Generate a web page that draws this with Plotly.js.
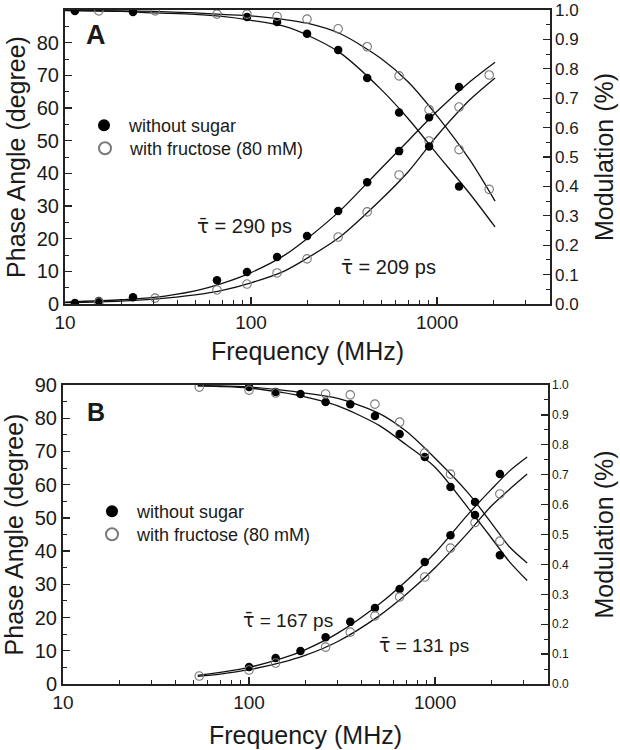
<!DOCTYPE html>
<html>
<head>
<meta charset="utf-8">
<script src="https://cdn.plot.ly/plotly-3.0.1.min.js"></script>
<style>html,body{margin:0;padding:0;background:#fff;}#chart{width:620px;height:750px;}</style>
</head>
<body>
<div id="chart"></div>
<script>
// ---------------- Panel A data ----------------
const freqA_filled  = [11.3, 15.2, 23.2, 65.6, 95.1, 138, 200, 294, 421, 625, 906, 1313];
const phaseA_filled = [0.3, 0.9, 2.1, 7.3, 9.8, 14.4, 20.8, 28.5, 37.3, 46.8, 57.2, 66.4];
const modA_filled   = [0.997, null, 0.993, null, 0.976, 0.959, 0.919, 0.864, 0.769, 0.651, 0.536, 0.400];

const freqA_open  = [15.2, 30.5, 65.6, 95.1, 138, 200, 294, 421, 625, 906, 1313, 1905];
const phaseA_open = [0.6, 1.8, 4.3, 6.1, 9.5, 13.8, 20.5, 28.2, 39.5, 49.9, 60.3, 70.1];
const modA_open   = [0.997, 0.997, 0.986, 0.986, 0.978, 0.969, 0.936, 0.875, 0.776, 0.661, 0.525, 0.390];

const fitFreqA         = [10, 20, 30, 50, 70, 100, 150, 200, 300, 500, 700, 1000, 1500, 2050];
const fitA_phaseFilled = [0.6, 1.3, 2.0, 4.0, 6.3, 9.6, 14.8, 20, 28.5, 41.5, 50, 59, 68, 74];
const fitA_phaseOpen   = [0.4, 0.9, 1.5, 2.8, 4.2, 6.5, 10, 14, 20.5, 32, 40.5, 51.5, 62.5, 69.2];
const fitA_modFilled   = [0.998, 0.995, 0.99, 0.985, 0.978, 0.965, 0.945, 0.915, 0.855, 0.73, 0.63, 0.51, 0.375, 0.262];
const fitA_modOpen     = [0.999, 0.997, 0.995, 0.99, 0.985, 0.98, 0.968, 0.955, 0.92, 0.835, 0.755, 0.64, 0.49, 0.35];

// ---------------- Panel B data ----------------
const freqB         = [54, 100, 139, 189, 258, 350, 475, 645, 880, 1210, 1640, 2230];
const phaseB_filled = [null, 5.1, 7.8, 9.9, 14.1, 18.7, 22.9, 28.6, 36.7, 44.8, 54.8, 63.2];
const phaseB_open   = [2.4, 4.2, 6.3, null, 11.1, 15.6, 20.5, 26.2, 32.2, 40.9, 48.6, 57.2];
const modB_filled   = [null, 0.993, 0.977, 0.97, 0.943, 0.936, 0.896, 0.836, 0.759, 0.659, 0.565, 0.431];
const modB_open     = [0.993, 0.983, 0.973, null, 0.97, 0.967, 0.936, 0.876, 0.773, 0.702, null, 0.478];

const fitFreqB         = [53, 70, 100, 150, 200, 300, 500, 700, 1000, 1500, 2000, 2500, 3126];
const fitB_phaseFilled = [2.6, 3.5, 5.0, 7.7, 10.3, 15.3, 24, 31, 39.5, 51, 58.5, 64, 68.3];
const fitB_phaseOpen   = [2.3, 3.0, 4.3, 6.5, 8.6, 12.8, 20.5, 27, 35, 45.5, 53.5, 58.5, 63.2];
const fitB_modFilled   = [0.997, 0.995, 0.99, 0.975, 0.96, 0.93, 0.865, 0.8, 0.725, 0.59, 0.49, 0.41, 0.346];
const fitB_modOpen     = [0.998, 0.997, 0.993, 0.983, 0.973, 0.955, 0.905, 0.845, 0.755, 0.64, 0.54, 0.46, 0.405];

// labels
const legendLabels = ['\u00a0without sugar', '\u00a0with fructose (80 mM)'];
const TAU = '<span style="font-family:DejaVu Sans">\u03c4\u0304</span>';
const tauLabelsA = [TAU + ' = 290 ps', TAU + ' = 209 ps'];
const tauLabelsB = [TAU + ' = 167 ps', TAU + ' = 131 ps'];
const xTickVals = [10, 100, 1000];
const xMinorVals = [20,30,40,50,60,70,80,90,200,300,400,500,600,700,800,900,2000,3000,4000];

// ---------------- styling ----------------
const W = 620, H = 750;
const FONT = 'Liberation Sans, Arial, sans-serif';
const TXT = '#1a1a1a';
const AX = '#222';
const px = x => x / W;
const py = y => 1 - y / H;

const filledMarker = {symbol: 'circle', size: 8.5, color: '#000'};
const openMarker = {symbol: 'circle-open', size: 8.5, color: '#7a7a7a', line: {width: 1.1, color: '#7a7a7a'}};
const fitLine = {color: '#111', width: 1.3, shape: 'spline', smoothing: 0.8};

function pts(x, y, xa, ya, marker, name, legend, show) {
  return {type: 'scatter', mode: 'markers', x: x, y: y, xaxis: xa, yaxis: ya,
    marker: marker, name: name, legend: legend, showlegend: show, hoverinfo: 'skip'};
}
function fit(x, y, xa, ya) {
  return {type: 'scatter', mode: 'lines', x: x, y: y, xaxis: xa, yaxis: ya,
    line: fitLine, showlegend: false, hoverinfo: 'skip', connectgaps: true};
}

const traces = [
  fit(fitFreqA, fitA_phaseFilled, 'x', 'y'),
  fit(fitFreqA, fitA_phaseOpen, 'x', 'y'),
  fit(fitFreqA, fitA_modFilled, 'x', 'y2'),
  fit(fitFreqA, fitA_modOpen, 'x', 'y2'),
  pts(freqA_filled, phaseA_filled, 'x', 'y', filledMarker, legendLabels[0], 'legend', true),
  pts(freqA_open, phaseA_open, 'x', 'y', openMarker, legendLabels[1], 'legend2', true),
  pts(freqA_filled, modA_filled, 'x', 'y2', filledMarker, legendLabels[0], 'legend', false),
  pts(freqA_open, modA_open, 'x', 'y2', openMarker, legendLabels[1], 'legend2', false),

  fit(fitFreqB, fitB_phaseFilled, 'x2', 'y3'),
  fit(fitFreqB, fitB_phaseOpen, 'x2', 'y3'),
  fit(fitFreqB, fitB_modFilled, 'x2', 'y4'),
  fit(fitFreqB, fitB_modOpen, 'x2', 'y4'),
  pts(freqB, phaseB_filled, 'x2', 'y3', filledMarker, legendLabels[0], 'legend3', true),
  pts(freqB, phaseB_open, 'x2', 'y3', openMarker, legendLabels[1], 'legend4', true),
  pts(freqB, modB_filled, 'x2', 'y4', filledMarker, legendLabels[0], 'legend3', false),
  pts(freqB, modB_open, 'x2', 'y4', openMarker, legendLabels[1], 'legend4', false)
];

function xAxis(domain, anchor, standoff) {
  return {
    domain: domain, anchor: anchor, type: 'log', range: [1, 3.607],
    tickmode: 'array', tickvals: xTickVals, ticktext: xTickVals.map(String),
    ticks: 'inside', ticklen: 7, tickwidth: 1.3, tickcolor: AX,
    minor: {tickmode: 'array', tickvals: xMinorVals, ticks: 'inside', ticklen: 4, tickwidth: 1, tickcolor: AX},
    showline: true, linewidth: 2, linecolor: AX, mirror: true,
    showgrid: false, zeroline: false,
    tickfont: {family: FONT, size: 19, color: TXT},
    title: {text: 'Frequency (MHz)', font: {family: FONT, size: 25, color: TXT}, standoff: standoff}
  };
}
function yLeft(domain, anchor) {
  return {
    domain: domain, anchor: anchor, range: [0, 90], tickmode: 'linear', tick0: 0, dtick: 10,
    ticks: 'inside', ticklen: 7, tickwidth: 1.3, tickcolor: AX,
    minor: {dtick: 5, ticks: 'inside', ticklen: 4, tickwidth: 1, tickcolor: AX},
    showline: true, linewidth: 2, linecolor: AX, showgrid: false, zeroline: false,
    tickfont: {family: FONT, size: 20, color: TXT},
    title: {text: 'Phase Angle (degree)', font: {family: FONT, size: 25, color: TXT}, standoff: 4}
  };
}
function yRight(overlay, anchor, fsize, standoff) {
  return {
    overlaying: overlay, anchor: anchor, side: 'right', range: [0, 1], tickmode: 'linear', tick0: 0, dtick: 0.1,
    tickformat: '.1f',
    ticks: 'inside', ticklen: 7, tickwidth: 1.3, tickcolor: AX,
    minor: {dtick: 0.05, ticks: 'inside', ticklen: 4, tickwidth: 1, tickcolor: AX},
    showline: true, linewidth: 1.6, linecolor: AX, showgrid: false, zeroline: false,
    tickfont: {family: FONT, size: fsize, color: TXT},
    title: {text: 'Modulation (%)', font: {family: FONT, size: 25, color: TXT}, standoff: standoff}
  };
}

const domA_x = [px(65), px(550)], domA_y = [py(304), py(10)];
const domB_x = [px(63), px(548)], domB_y = [py(684), py(385)];

function ann(text, x, y, size, bold) {
  return {text: bold ? '<b>' + text + '</b>' : text, xref: 'paper', yref: 'paper', x: px(x), y: py(y),
    xanchor: 'center', yanchor: 'middle', showarrow: false,
    font: {family: FONT, size: size, color: TXT}};
}

const legendStyle = (x, y) => ({
  x: px(x), y: py(y), xanchor: 'left', yanchor: 'top', bgcolor: 'rgba(0,0,0,0)', borderwidth: 0,
  itemsizing: 'constant', tracegroupgap: 0,
  font: {family: FONT, size: 18, color: TXT}
});

const layout = {
  width: W, height: H, margin: {l: 0, r: 0, t: 0, b: 0},
  paper_bgcolor: '#fff', plot_bgcolor: 'rgba(0,0,0,0)',
  showlegend: true,
  xaxis: xAxis(domA_x, 'y', 11),
  yaxis: yLeft(domA_y, 'x'),
  yaxis2: yRight('y', 'x', 17, 18),
  xaxis2: xAxis(domB_x, 'y3', 15),
  yaxis3: yLeft(domB_y, 'x2'),
  yaxis4: yRight('y3', 'x2', 12, 27),
  legend: legendStyle(84, 107),
  legend2: legendStyle(85, 130),
  legend3: legendStyle(92, 493),
  legend4: legendStyle(92, 516),
  annotations: [
    ann('A', 96, 35, 27, true),
    ann('B', 96, 412, 25, true),
    ann(tauLabelsA[0], 244, 226, 20),
    ann(tauLabelsA[1], 388, 267, 20),
    ann(tauLabelsB[0], 288, 620, 19),
    ann(tauLabelsB[1], 424, 645, 19)
  ]
};

Plotly.newPlot('chart', traces, layout, {staticPlot: true, displayModeBar: false});
</script>
</body>
</html>
